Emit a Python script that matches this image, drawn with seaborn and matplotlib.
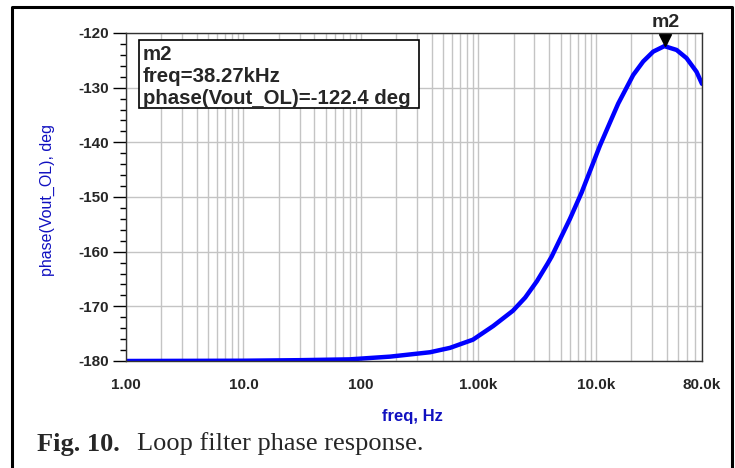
import numpy as np
import pandas as pd
import seaborn as sns
import matplotlib.pyplot as plt
import matplotlib.transforms as mtransforms
from matplotlib.patches import Rectangle
from matplotlib.lines import Line2D
from matplotlib.ticker import FixedLocator, FixedFormatter, LogLocator, MultipleLocator

# ---------------- data ----------------
freq_hz = [1, 10, 30, 80, 177, 387, 572, 898, 1336, 1967, 2500, 3147, 3900,
           4200, 6010, 7550, 10820, 13150, 15490, 20750, 25280, 30770, 38270,
           48600, 59100, 71900, 80000]
phase_deg = [-180.0, -179.95, -179.85, -179.7, -179.2, -178.4, -177.6, -176.1,
             -173.6, -170.8, -168.4, -165.4, -162.1, -160.9, -154.0, -149.2,
             -140.6, -136.4, -132.9, -127.7, -125.2, -123.4, -122.4, -123.1,
             -124.6, -127.1, -129.3]
x_ticks = [1, 10, 100, 1000, 10000, 80000]
x_tick_labels = ["1.00", "10.0", "100", "1.00k", "10.0k", "80.0k"]
y_ticks = [-180, -170, -160, -150, -140, -130, -120]
marker_freq = 38270
marker_phase = -122.4

df = pd.DataFrame({"freq": freq_hz, "phase": phase_deg})

# ---------------- figure ----------------
sns.set_theme(style="white")
plt.rcParams["font.family"] = ["Liberation Sans", "DejaVu Sans"]
plt.rcParams["axes.unicode_minus"] = False

W, H = 735, 468
fig = plt.figure(figsize=(W / 100, H / 100), dpi=100)
fig.patch.set_facecolor("white")


def fx(px):
    return px / W


def fy(py):
    return 1 - py / H


ax = fig.add_axes([fx(126), fy(361), fx(702) - fx(126), fy(33) - fy(361)])
ax.set_facecolor("white")

sns.lineplot(data=df, x="freq", y="phase", ax=ax, color="#0000ff", linewidth=3.2)

ax.set_xscale("log")
ax.set_xlim(1, 80000)
ax.set_ylim(-180, -120)

# grid: every log minor vertical, every 10 deg horizontal
ax.xaxis.set_minor_locator(LogLocator(base=10, subs=np.arange(2, 10), numticks=20))
ax.grid(which="major", axis="both", color="#c4c4c4", linewidth=1.0)
ax.grid(which="minor", axis="x", color="#c4c4c4", linewidth=1.0)
ax.set_axisbelow(True)

ax.xaxis.set_major_locator(FixedLocator(x_ticks))
ax.xaxis.set_major_formatter(FixedFormatter(x_tick_labels))
ax.yaxis.set_major_locator(FixedLocator(y_ticks))
ax.yaxis.set_minor_locator(MultipleLocator(2))

ax.tick_params(axis="x", which="major", direction="out", length=9, width=1,
               color="black", labelsize=11, pad=3)
ax.tick_params(axis="x", which="minor", length=0)
ax.tick_params(axis="y", which="major", direction="out", length=9.5, width=1,
               color="black", labelsize=11, pad=3, left=True)
ax.tick_params(axis="y", which="minor", direction="out", length=4.5, width=1,
               color="black", left=True)
for lab in ax.get_xticklabels() + ax.get_yticklabels():
    lab.set_fontweight("bold")

for s in ax.spines.values():
    s.set_color("#333333")
    s.set_linewidth(1.0)

ax.set_xlabel("")
ax.set_ylabel("")

# marker m2
tri = mtransforms.offset_copy(ax.transData, fig=fig, x=1, y=6, units="dots")
ax.plot([marker_freq], [marker_phase], marker="v", color="black", markersize=9,
        transform=tri, clip_on=False, linestyle="none")
ax.annotate("m2", (marker_freq, marker_phase), xytext=(1, 17), textcoords="offset points",
            ha="center", va="center", fontsize=14, fontweight="bold", annotation_clip=False)

# marker readout box
fig.patches.append(Rectangle((fx(139), fy(108)), fx(419) - fx(139), fy(40) - fy(108),
                             transform=fig.transFigure, fill=True, facecolor="white",
                             edgecolor="black", linewidth=1.2, zorder=5))
fig.text(fx(143), fy(45), "m2\nfreq=38.27kHz\nphase(Vout_OL)=-122.4 deg",
         ha="left", va="top", fontsize=14.7, fontweight="bold", linespacing=1.2, zorder=6)

# axis labels
fig.text(fx(47), fy(200), "phase(Vout_OL), deg", rotation=90, ha="center", va="center",
         color="#1010c0", fontsize=11.5)
fig.text(fx(412), fy(417), "freq, Hz", ha="center", va="center",
         color="#1010c0", fontsize=12, fontweight="bold")

# caption
fig.text(fx(37), fy(444), "Fig. 10.", ha="left", va="center", fontsize=19,
         fontweight="bold", family="Liberation Serif")
fig.text(fx(137), fy(444), "Loop filter phase response.", ha="left", va="center",
         fontsize=19, family="Liberation Serif")

# outer frame
fig.lines.append(Line2D([fx(12), fx(12), fx(732), fx(732)], [0, fy(7), fy(7), 0],
                        transform=fig.transFigure, color="black", linewidth=2.2))

fig.savefig("out.png", dpi=100)
